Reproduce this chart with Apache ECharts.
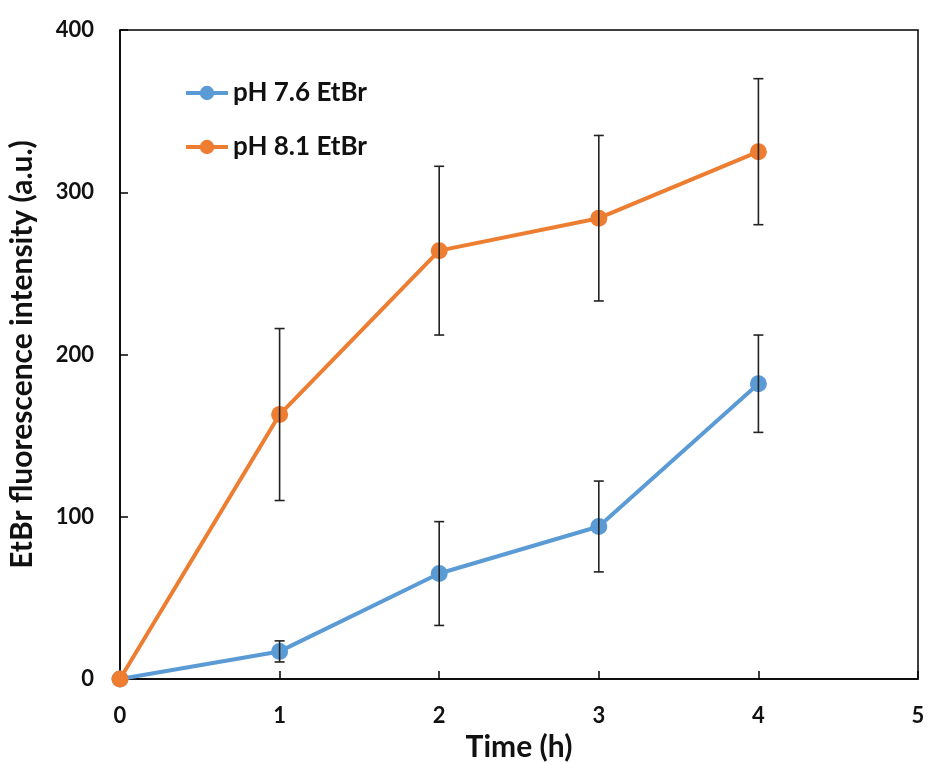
<!DOCTYPE html>
<html>
<head>
<meta charset="utf-8">
<script src="https://cdn.jsdelivr.net/npm/echarts@6/dist/echarts.min.js"></script>
<style>
  html, body { margin: 0; padding: 0; background: #fff; }
  #chart { width: 928px; height: 763px; }
</style>
</head>
<body>
<div id="chart"></div>
<script>
var times = [0, 1, 2, 3, 4];
var ph76 = [0, 17, 65, 94, 182];
var ph76Err = [0, 6.5, 32, 28, 30];
var ph81 = [0, 163, 264, 284, 325];
var ph81Err = [0, 53, 52, 51, 45];

var blue = '#5B9BD5';
var orange = '#ED7D31';
var font = 'Lato';

function pts(vals) {
  var out = [];
  for (var i = 0; i < times.length; i++) out.push([times[i], vals[i]]);
  return out;
}
function errs(vals, e) {
  var out = [];
  for (var i = 0; i < times.length; i++) {
    if (e[i] > 0) out.push([times[i], vals[i] - e[i], vals[i] + e[i]]);
  }
  return out;
}

// vertical error bar with caps
function errorBar(params, api) {
  var lo = api.coord([api.value(0), api.value(1)]);
  var hi = api.coord([api.value(0), api.value(2)]);
  var w = 5;
  var st = { stroke: '#222', lineWidth: 1.6 };
  return {
    type: 'group',
    children: [
      { type: 'line', shape: { x1: lo[0], y1: lo[1], x2: hi[0], y2: hi[1] }, style: st },
      { type: 'line', shape: { x1: lo[0] - w, y1: lo[1], x2: lo[0] + w, y2: lo[1] }, style: st },
      { type: 'line', shape: { x1: hi[0] - w, y1: hi[1], x2: hi[0] + w, y2: hi[1] }, style: st }
    ]
  };
}

var chart = echarts.init(document.getElementById('chart'));
chart.setOption({
  animation: false,
  textStyle: { fontFamily: font },
  grid: {
    left: 120, right: 10, top: 30, bottom: 84,
    outerBoundsMode: 'none', containLabel: false,
    show: true, borderColor: '#000', borderWidth: 1.5
  },
  legend: {
    orient: 'vertical',
    left: 179, top: 75,
    itemWidth: 42, itemHeight: 18, itemGap: 28,
    lineStyle: { width: 4 },
    textStyle: { fontFamily: font, fontWeight: 'bold', fontSize: 26, color: '#111' },
    data: ['pH 7.6 EtBr', 'pH 8.1 EtBr']
  },
  xAxis: {
    type: 'value', min: 0, max: 5, interval: 1,
    name: 'Time (h)', nameLocation: 'middle', nameGap: 51,
    nameTextStyle: { fontFamily: font, fontWeight: 'bold', fontSize: 30, color: '#111' },
    axisLine: { lineStyle: { color: '#000', width: 1.5 } },
    axisTick: { inside: true, length: 8, lineStyle: { color: '#000', width: 1.5 } },
    axisLabel: { fontFamily: font, fontWeight: 'bold', fontSize: 22, color: '#111', margin: 26 },
    splitLine: { show: false }
  },
  yAxis: {
    type: 'value', min: 0, max: 400, interval: 100,
    name: 'EtBr fluorescence intensity (a.u.)', nameLocation: 'middle', nameGap: 83,
    nameTextStyle: { fontFamily: font, fontWeight: 'bold', fontSize: 30, color: '#111' },
    axisLine: { lineStyle: { color: '#000', width: 1.5 } },
    axisTick: { inside: true, length: 8, lineStyle: { color: '#000', width: 1.5 } },
    axisLabel: { fontFamily: font, fontWeight: 'bold', fontSize: 22, color: '#111', margin: 26 },
    splitLine: { show: false }
  },
  series: [
    {
      name: 'pH 7.6 EtBr', type: 'line', data: pts(ph76),
      symbol: 'circle', symbolSize: 17,
      lineStyle: { color: blue, width: 4 },
      itemStyle: { color: blue },
      z: 2
    },
    {
      name: 'pH 8.1 EtBr', type: 'line', data: pts(ph81),
      symbol: 'circle', symbolSize: 17,
      lineStyle: { color: orange, width: 4 },
      itemStyle: { color: orange },
      z: 3
    },
    { type: 'custom', renderItem: errorBar, data: errs(ph76, ph76Err), z: 5, silent: true },
    { type: 'custom', renderItem: errorBar, data: errs(ph81, ph81Err), z: 5, silent: true }
  ]
});
</script>
</body>
</html>
